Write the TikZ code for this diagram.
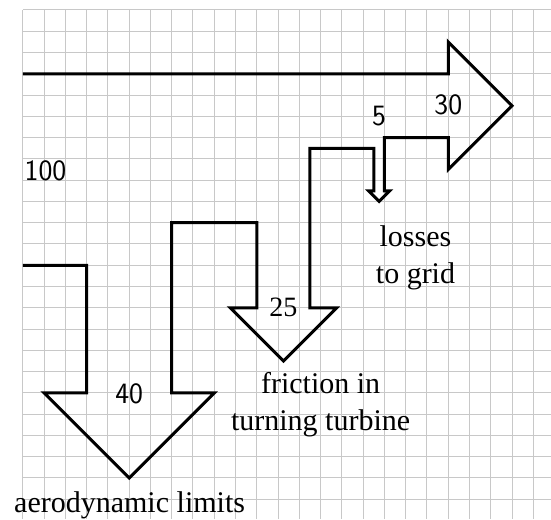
\documentclass[tikz,border=0pt]{standalone}
\usepackage{fontspec}
\setmainfont{Liberation Serif}
\definecolor{gridgray}{RGB}{200,200,200}
\begin{document}
\begin{tikzpicture}[x=21.27pt,y=-21.27pt,
  gridline/.style={gridgray, line width=1pt},
  flow/.style={line width=3pt, line join=miter, black},
  lab/.style={font=\fontsize{30}{37}\selectfont, inner sep=0pt, anchor=base},
  num/.style={font=\sffamily\fontsize{29.5}{34}\selectfont, inner sep=0pt, anchor=base},
]
\useasboundingbox (-1.072,-0.470) rectangle (24.83,23.93);
\begin{scope}
\clip (-1.072,-0.470) rectangle (24.83,23.93);
\foreach \i in {0,...,24} \draw[gridline] (\i,0) -- (\i,23.93);
\foreach \j in {0,...,23} \draw[gridline] (0,\j) -- (24.83,\j);
\end{scope}
\draw[flow] (0,3) -- (20,3) -- (20,1.5) -- (23,4.5) -- (20,7.5) -- (20,6) -- (17,6)
  -- (17,8.5) -- (17.25,8.5) -- (16.75,9) -- (16.25,8.5) -- (16.5,8.5) -- (16.5,6.5)
  -- (13.5,6.5) -- (13.5,14) -- (14.75,14) -- (12.25,16.5) -- (9.75,14) -- (11,14)
  -- (11,10) -- (7,10) -- (7,18) -- (9,18) -- (5,22) -- (1,18) -- (3,18) -- (3,12) -- (0,12);
\node[num, anchor=base west] (n100) at (0.08,8) {100};
\node[num] (n40) at (5,18.5) {40};
\node[num] (n30) at (20,4.9) {30};
\node[num] (n5) at (16.75,5.45) {5};
\node[lab, font=\fontsize{28}{32}\selectfont] (n25) at (12.25,14.42) {25};
\node[lab] (aero) at (5.02,23.6) {aerodynamic limits};
\node[lab] (fric1) at (14,18.02) {friction in};
\node[lab] (fric2) at (14,19.78) {turning turbine};
\node[lab] (loss1) at (18.46,11.1) {losses};
\node[lab] (loss2) at (18.46,12.84) {to grid};
\end{tikzpicture}
\end{document}
